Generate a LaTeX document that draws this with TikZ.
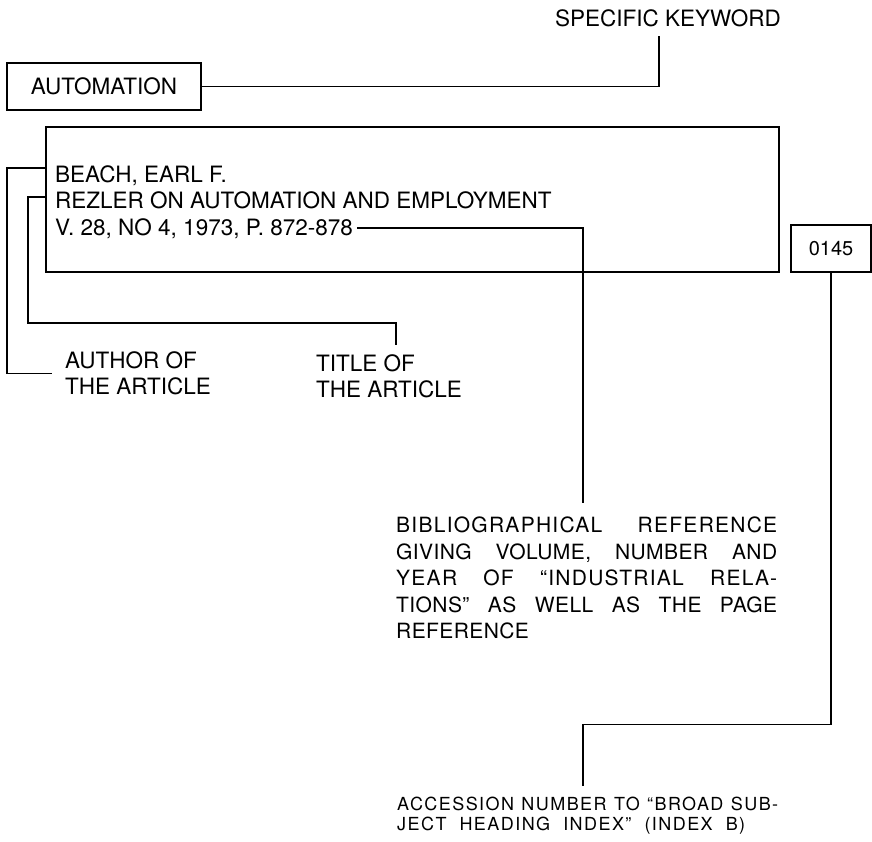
\documentclass[tikz,border=0pt]{standalone}
\usepackage{fontspec}
\setmainfont{TeX Gyre Heros}
\begin{document}
\begin{tikzpicture}[x=1pt,y=1pt,
  every node/.style={inner sep=0pt},
  lbl/.style={font=\fontsize{22.5}{26}\selectfont, align=left},
  box/.style={draw, line width=1.9pt},
  conn/.style={line width=1.9pt}]
  \useasboundingbox (0,0) rectangle (872,-841);
  % keyword and the card
  \node (kw) [lbl] at (668,-18) {SPECIFIC KEYWORD};
  \coordinate (kwend) at (659,-36);
  \node (auto) [box, lbl, minimum width=194pt, minimum height=47pt] at (104,-86.5) {AUTOMATION};
  \node (rec) [box, minimum width=733pt, minimum height=145pt] at (412.5,-199.5) {};
  \node (beach) [lbl, anchor=base west] at (55,-182) {BEACH, EARL F.};
  \node (rezler) [lbl, anchor=base west] at (55,-208) {REZLER ON AUTOMATION AND EMPLOYMENT};
  \node (vol) [lbl, anchor=base west] at (55,-235) {V. 28, NO 4, 1973, P. 872-878};
  \node (num) [box, font=\fontsize{20}{22}\selectfont, minimum width=80pt, minimum height=47pt] at (831,-248.5) {0145};
  % labels
  \node (author) [lbl, anchor=west] at (65,-373.5) {AUTHOR OF\\THE ARTICLE};
  \node (title) [lbl, anchor=north west] at (316,-354) {TITLE OF\\THE ARTICLE};
  \coordinate (titleend) at (396,-345);
  \node (bib) [anchor=north west, align=left,
    font=\fontsize{21}{26.5}\selectfont\addfontfeature{LetterSpace=2}] at (396,-517)
    {\makebox[381pt][s]{\addfontfeature{LetterSpace=6}BIBLIOGRAPHICAL REFERENCE}\\
     \makebox[381pt][s]{GIVING VOLUME, NUMBER AND}\\
     \makebox[381pt][s]{\addfontfeature{LetterSpace=6}YEAR OF “INDUSTRIAL RELA-}\\
     \makebox[381pt][s]{TIONS” AS WELL AS THE PAGE}\\
     REFERENCE};
  \coordinate (refend) at (583,-503);
  \node (acc) [anchor=north west, align=left,
    font=\fontsize{18}{20}\selectfont\addfontfeature{LetterSpace=8}] at (397,-797)
    {\makebox[381pt][s]{ACCESSION NUMBER TO “BROAD SUB-}\\
     \makebox[348pt][s]{JECT HEADING INDEX” (INDEX B)}};
  \coordinate (accend) at (583,-786);
  % connectors
  \draw[conn] (auto.east) -| (kwend);
  \draw[conn] (rec.west |- 0,-168) -- ++(-38,0) |- ([xshift=-13pt]author.west);
  \draw[conn] (rec.west |- 0,-197) -- ++(-17,0) |- ([yshift=22pt]titleend) -- (titleend);
  \draw[conn] ([xshift=4pt]vol.east) -| (refend);
  \draw[conn] (num.south) -- ++(0,-451.5) -| (accend);
\end{tikzpicture}
\end{document}
